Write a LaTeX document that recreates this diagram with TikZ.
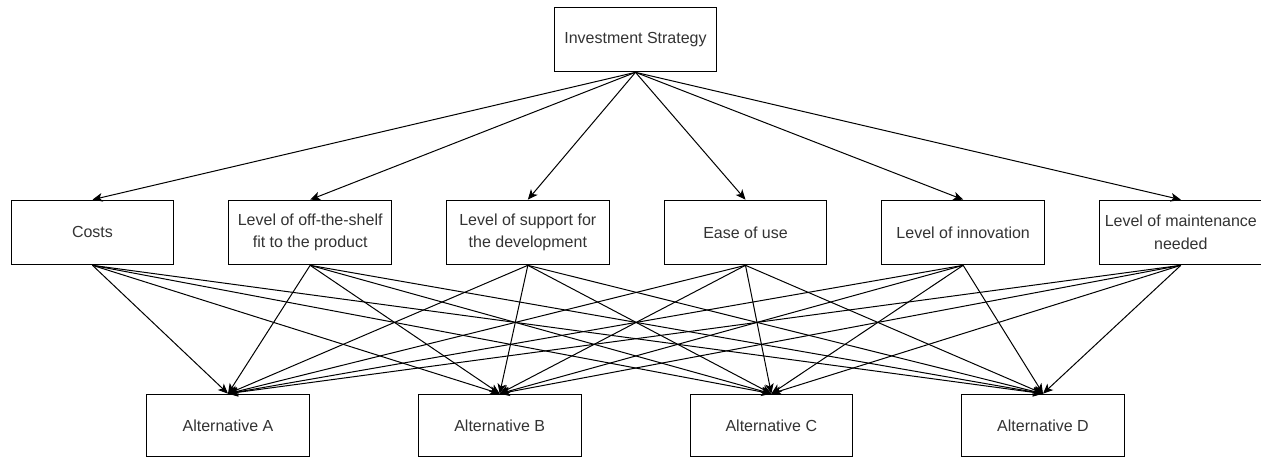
\documentclass[tikz,border=0pt]{standalone}
\usepackage{fontspec}
\setmainfont{Liberation Sans}
\usepackage{tikz}
\usetikzlibrary{arrows.meta, positioning}
\definecolor{ahpline}{HTML}{000000}
\definecolor{ahptext}{HTML}{333333}
\tikzset{
  goal/.style={rectangle, draw=ahpline, line width=0.75pt, fill=white,
    align=center, text=ahptext, font=\fontsize{12}{17}\selectfont,
    minimum width=122pt, minimum height=48.5pt, inner sep=1pt},
  crit/.style={goal},
  alt/.style={goal, minimum height=47pt},
  ar/.style={-{Stealth[length=7.5pt, width=6.5pt, inset=2pt]}, line width=0.75pt, ahpline},
}
\begin{document}
\begin{tikzpicture}[x=0.75pt, y=0.75pt]
\useasboundingbox (0,0) rectangle (1261,459);

% ---- Goal ----
\node[goal] (goal) at (635.5,419.5) {Investment Strategy};

% ---- Criteria ----
\node[crit] (costs) at (92.5,226.5) {Costs};
\node[crit, right=40.5pt of costs] (shelf) {Level of off-the-shelf\\fit to the product};
\node[crit, right=40.5pt of shelf] (support) {Level of support for\\the development};
\node[crit, right=40.5pt of support] (ease) {Ease of use};
\node[crit, right=40.5pt of ease] (innov) {Level of innovation};
\node[crit, right=40.5pt of innov] (maint) {Level of maintenance\\needed};

% ---- Alternatives ----
\node[alt] (altA) at (228,33.5) {Alternative A};
\node[alt, right=81pt of altA] (altB) {Alternative B};
\node[alt, right=81pt of altB] (altC) {Alternative C};
\node[alt, right=81pt of altC] (altD) {Alternative D};

% ---- Goal to criteria ----
\draw[ar] (goal.south) -- (costs.north);
\draw[ar] (goal.south) -- (shelf.north);
\draw[ar] (goal.south) -- (support.north);
\draw[ar] (goal.south) -- (ease.north);
\draw[ar] (goal.south) -- (innov.north);
\draw[ar] (goal.south) -- (maint.north);

% ---- Criteria to alternatives ----
\foreach \c in {costs, shelf, support, ease, innov, maint}
  \foreach \a in {altA, altB, altC, altD}
    \draw[ar] (\c.south) -- (\a.north);

\end{tikzpicture}
\end{document}
